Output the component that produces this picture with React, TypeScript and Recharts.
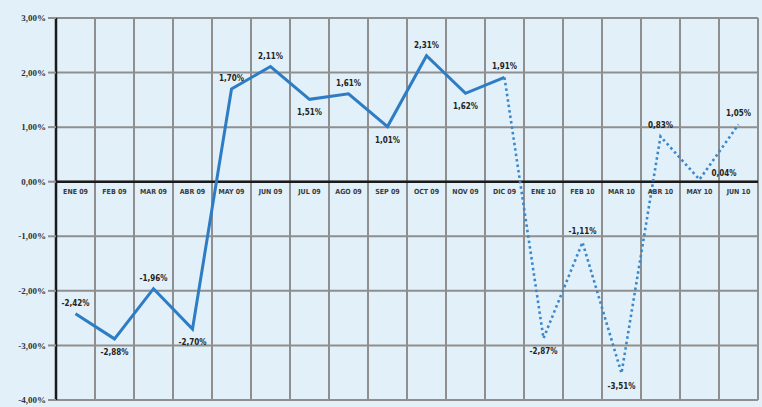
import React from 'react'
import {
  LineChart,
  Line,
  XAxis,
  YAxis,
  CartesianGrid,
  ReferenceLine,
  LabelList,
} from 'recharts'

const months = [
  'ENE 09', 'FEB 09', 'MAR 09', 'ABR 09', 'MAY 09', 'JUN 09',
  'JUL 09', 'AGO 09', 'SEP 09', 'OCT 09', 'NOV 09', 'DIC 09',
  'ENE 10', 'FEB 10', 'MAR 10', 'ABR 10', 'MAY 10', 'JUN 10',
]

const rates = [
  -2.42, -2.88, -1.96, -2.7, 1.7, 2.11,
  1.51, 1.61, 1.01, 2.31, 1.62, 1.91,
  -2.87, -1.11, -3.51, 0.83, 0.04, 1.05,
]

// where each value label sits relative to its point
const labelSide = [
  'top', 'bottom', 'top', 'bottom', 'top', 'top',
  'bottom', 'top', 'bottom', 'top', 'bottom', 'top',
  'bottom', 'top', 'bottom', 'top', 'right', 'top',
]

const yTicks = [-4, -3, -2, -1, 0, 1, 2, 3]

// solid line runs through DIC 09, dotted line continues from there
const lastSolid = 11

const data = months.map((month, i) => ({
  month,
  base: 0,
  solid: i <= lastSolid ? rates[i] : null,
  dotted: i >= lastSolid ? rates[i] : null,
}))

const pct = (v: number) => v.toFixed(2).replace('.', ',') + '%'

const BLUE = '#2d7cc4'
const GRID = '#8f8f8f'
const FONT = '"DejaVu Sans Condensed", "DejaVu Sans", sans-serif'

const ValueLabel = (skipFrom: number, skipTo: number) => (props: any) => {
  const { x, y, index, value } = props
  if (value == null || (index >= skipFrom && index <= skipTo)) return null
  const side = labelSide[index]
  let dx = 0
  let dy = -8
  let anchor = 'middle'
  if (side === 'bottom') dy = 16
  if (side === 'right') {
    dx = 12
    dy = -4
    anchor = 'start'
  }
  return (
    <text
      x={x + dx}
      y={y + dy}
      textAnchor={anchor}
      fontFamily={FONT}
      fontWeight="bold"
      fontSize={8}
      fill="#222"
    >
      {pct(value)}
    </text>
  )
}

const MonthLabel = (props: any) => {
  const { x, y, value } = props
  return (
    <text
      x={x}
      y={y + 12}
      textAnchor="middle"
      fontFamily={FONT}
      fontWeight="bold"
      fontSize={7}
      fill="#3a3a3a"
    >
      {value}
    </text>
  )
}

export default function App() {
  return (
    <div
      style={{
        position: 'absolute',
        left: 0,
        top: 0,
        width: 762,
        height: 407,
        background: '#e2f0f9',
      }}
    >
      <LineChart
        width={762}
        height={407}
        data={data}
        margin={{ top: 18, right: 4, left: 0, bottom: 7 }}
      >
        <CartesianGrid
          stroke={GRID}
          strokeWidth={2}
          verticalCoordinatesGenerator={({ offset }: any) =>
            months.map((_, i) => offset.left + ((i + 1) * offset.width) / months.length)
          }
        />
        <XAxis dataKey="month" hide padding={{ left: 19.5, right: 19.5 }} />
        <YAxis
          width={56}
          domain={[-4, 3]}
          ticks={yTicks}
          interval={0}
          tickFormatter={pct}
          tickSize={8}
          axisLine={{ stroke: '#1a1a1a', strokeWidth: 2.5 }}
          tickLine={{ stroke: GRID, strokeWidth: 2 }}
          tick={{
            fill: '#333',
            fontSize: 9,
            fontWeight: 'bold',
            fontFamily: '"Liberation Serif", serif',
          }}
        />
        <ReferenceLine y={0} stroke="#1a1a1a" strokeWidth={2.5} />
        <Line
          dataKey="base"
          stroke="none"
          dot={false}
          activeDot={false}
          isAnimationActive={false}
        >
          <LabelList dataKey="month" content={MonthLabel} />
        </Line>
        <Line
          dataKey="solid"
          stroke={BLUE}
          strokeWidth={3}
          dot={false}
          connectNulls={false}
          isAnimationActive={false}
        >
          <LabelList dataKey="solid" content={ValueLabel(-1, -1)} />
        </Line>
        <Line
          dataKey="dotted"
          stroke="#3a88cc"
          strokeWidth={2.6}
          strokeDasharray="2.5 3"
          dot={false}
          connectNulls={false}
          isAnimationActive={false}
        >
          <LabelList dataKey="dotted" content={ValueLabel(lastSolid, lastSolid)} />
        </Line>
      </LineChart>
    </div>
  )
}
